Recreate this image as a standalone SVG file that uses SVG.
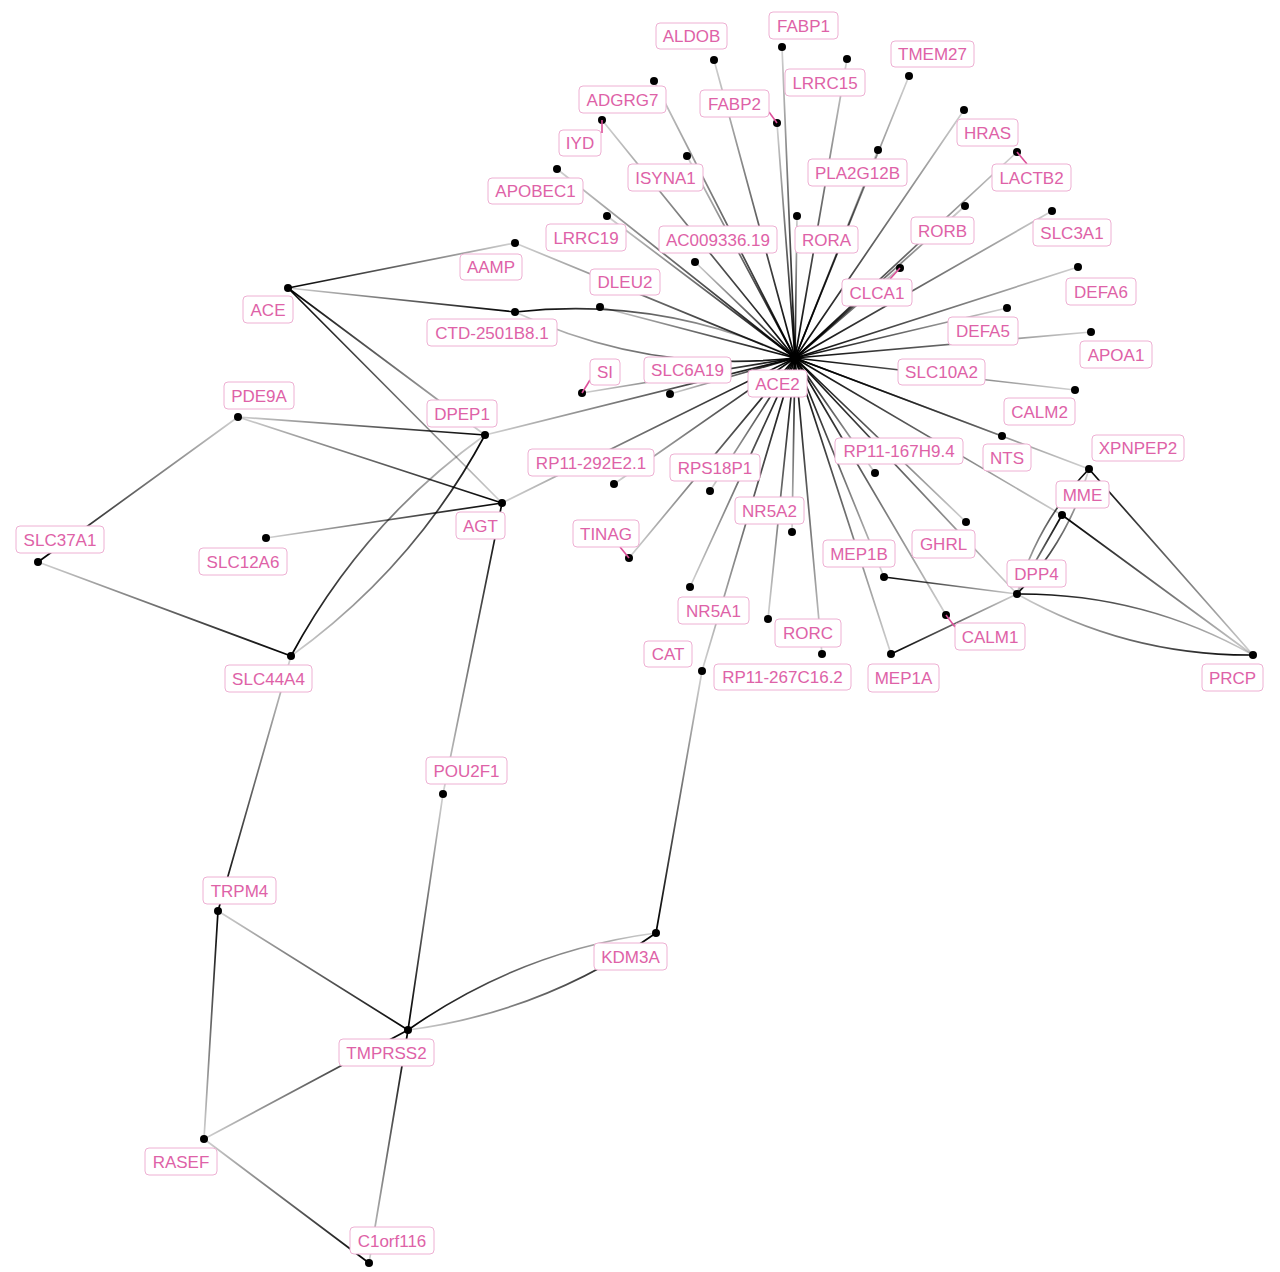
<svg xmlns="http://www.w3.org/2000/svg" width="1280" height="1272" viewBox="0 0 1280 1272">
<defs>
<linearGradient id="t"><stop offset="0" stop-color="#000" stop-opacity="1"/><stop offset="1" stop-color="#000" stop-opacity="0.18"/></linearGradient>
<linearGradient id="h1" href="#t" gradientUnits="userSpaceOnUse" x1="795" y1="358" x2="714" y2="60"/>
<linearGradient id="h2" href="#t" gradientUnits="userSpaceOnUse" x1="795" y1="358" x2="782" y2="47"/>
<linearGradient id="h3" href="#t" gradientUnits="userSpaceOnUse" x1="795" y1="358" x2="847" y2="59"/>
<linearGradient id="h4" href="#t" gradientUnits="userSpaceOnUse" x1="795" y1="358" x2="909" y2="76"/>
<linearGradient id="h5" href="#t" gradientUnits="userSpaceOnUse" x1="795" y1="358" x2="964" y2="110"/>
<linearGradient id="h6" href="#t" gradientUnits="userSpaceOnUse" x1="795" y1="358" x2="1017" y2="152"/>
<linearGradient id="h7" href="#t" gradientUnits="userSpaceOnUse" x1="795" y1="358" x2="878" y2="150"/>
<linearGradient id="h8" href="#t" gradientUnits="userSpaceOnUse" x1="795" y1="358" x2="777" y2="123"/>
<linearGradient id="h9" href="#t" gradientUnits="userSpaceOnUse" x1="795" y1="358" x2="654" y2="81"/>
<linearGradient id="h10" href="#t" gradientUnits="userSpaceOnUse" x1="795" y1="358" x2="602" y2="120"/>
<linearGradient id="h11" href="#t" gradientUnits="userSpaceOnUse" x1="795" y1="358" x2="687" y2="156"/>
<linearGradient id="h12" href="#t" gradientUnits="userSpaceOnUse" x1="795" y1="358" x2="557" y2="169"/>
<linearGradient id="h13" href="#t" gradientUnits="userSpaceOnUse" x1="795" y1="358" x2="607" y2="216"/>
<linearGradient id="h14" href="#t" gradientUnits="userSpaceOnUse" x1="795" y1="358" x2="695" y2="262"/>
<linearGradient id="h15" href="#t" gradientUnits="userSpaceOnUse" x1="795" y1="358" x2="797" y2="216"/>
<linearGradient id="h16" href="#t" gradientUnits="userSpaceOnUse" x1="795" y1="358" x2="515" y2="243"/>
<linearGradient id="h17" href="#t" gradientUnits="userSpaceOnUse" x1="795" y1="358" x2="600" y2="307"/>
<linearGradient id="h18" href="#t" gradientUnits="userSpaceOnUse" x1="795" y1="358" x2="582" y2="393"/>
<linearGradient id="h19" href="#t" gradientUnits="userSpaceOnUse" x1="795" y1="358" x2="670" y2="394"/>
<linearGradient id="h20" href="#t" gradientUnits="userSpaceOnUse" x1="795" y1="358" x2="965" y2="206"/>
<linearGradient id="h21" href="#t" gradientUnits="userSpaceOnUse" x1="795" y1="358" x2="1052" y2="211"/>
<linearGradient id="h22" href="#t" gradientUnits="userSpaceOnUse" x1="795" y1="358" x2="900" y2="268"/>
<linearGradient id="h23" href="#t" gradientUnits="userSpaceOnUse" x1="795" y1="358" x2="1078" y2="267"/>
<linearGradient id="h24" href="#t" gradientUnits="userSpaceOnUse" x1="795" y1="358" x2="1007" y2="308"/>
<linearGradient id="h25" href="#t" gradientUnits="userSpaceOnUse" x1="795" y1="358" x2="1091" y2="332"/>
<linearGradient id="h26" href="#t" gradientUnits="userSpaceOnUse" x1="795" y1="358" x2="1075" y2="390"/>
<linearGradient id="h27" href="#t" gradientUnits="userSpaceOnUse" x1="795" y1="358" x2="1002" y2="436"/>
<linearGradient id="h28" href="#t" gradientUnits="userSpaceOnUse" x1="795" y1="358" x2="1089" y2="469"/>
<linearGradient id="h29" href="#t" gradientUnits="userSpaceOnUse" x1="795" y1="358" x2="1062" y2="515"/>
<linearGradient id="h30" href="#t" gradientUnits="userSpaceOnUse" x1="795" y1="358" x2="875" y2="473"/>
<linearGradient id="h31" href="#t" gradientUnits="userSpaceOnUse" x1="795" y1="358" x2="966" y2="522"/>
<linearGradient id="h32" href="#t" gradientUnits="userSpaceOnUse" x1="795" y1="358" x2="884" y2="577"/>
<linearGradient id="h33" href="#t" gradientUnits="userSpaceOnUse" x1="795" y1="358" x2="1017" y2="594"/>
<linearGradient id="h34" href="#t" gradientUnits="userSpaceOnUse" x1="795" y1="358" x2="946" y2="615"/>
<linearGradient id="h35" href="#t" gradientUnits="userSpaceOnUse" x1="795" y1="358" x2="891" y2="654"/>
<linearGradient id="h36" href="#t" gradientUnits="userSpaceOnUse" x1="795" y1="358" x2="822" y2="654"/>
<linearGradient id="h37" href="#t" gradientUnits="userSpaceOnUse" x1="795" y1="358" x2="768" y2="619"/>
<linearGradient id="h38" href="#t" gradientUnits="userSpaceOnUse" x1="795" y1="358" x2="702" y2="671"/>
<linearGradient id="h39" href="#t" gradientUnits="userSpaceOnUse" x1="795" y1="358" x2="690" y2="587"/>
<linearGradient id="h40" href="#t" gradientUnits="userSpaceOnUse" x1="795" y1="358" x2="792" y2="532"/>
<linearGradient id="h41" href="#t" gradientUnits="userSpaceOnUse" x1="795" y1="358" x2="710" y2="491"/>
<linearGradient id="h42" href="#t" gradientUnits="userSpaceOnUse" x1="795" y1="358" x2="629" y2="558"/>
<linearGradient id="h43" href="#t" gradientUnits="userSpaceOnUse" x1="795" y1="358" x2="614" y2="484"/>
<linearGradient id="h44" href="#t" gradientUnits="userSpaceOnUse" x1="795" y1="358" x2="485" y2="435"/>
<linearGradient id="h45" href="#t" gradientUnits="userSpaceOnUse" x1="795" y1="358" x2="502" y2="503"/>
<linearGradient id="a1" href="#t" gradientUnits="userSpaceOnUse" x1="515" y1="312" x2="795" y2="358"/>
<linearGradient id="a2" href="#t" gradientUnits="userSpaceOnUse" x1="795" y1="358" x2="515" y2="312"/>
<linearGradient id="e1" href="#t" gradientUnits="userSpaceOnUse" x1="288" y1="288" x2="515" y2="243"/>
<linearGradient id="e2" href="#t" gradientUnits="userSpaceOnUse" x1="515" y1="312" x2="288" y2="288"/>
<linearGradient id="e3" href="#t" gradientUnits="userSpaceOnUse" x1="288" y1="288" x2="485" y2="435"/>
<linearGradient id="e4" href="#t" gradientUnits="userSpaceOnUse" x1="288" y1="288" x2="502" y2="503"/>
<linearGradient id="e5" href="#t" gradientUnits="userSpaceOnUse" x1="485" y1="435" x2="238" y2="417"/>
<linearGradient id="e6" href="#t" gradientUnits="userSpaceOnUse" x1="502" y1="503" x2="238" y2="417"/>
<linearGradient id="e7" href="#t" gradientUnits="userSpaceOnUse" x1="38" y1="562" x2="238" y2="417"/>
<linearGradient id="e8" href="#t" gradientUnits="userSpaceOnUse" x1="291" y1="656" x2="38" y2="562"/>
<linearGradient id="e9" href="#t" gradientUnits="userSpaceOnUse" x1="502" y1="503" x2="266" y2="538"/>
<linearGradient id="a3" href="#t" gradientUnits="userSpaceOnUse" x1="291" y1="656" x2="485" y2="435"/>
<linearGradient id="a4" href="#t" gradientUnits="userSpaceOnUse" x1="485" y1="435" x2="291" y2="656"/>
<linearGradient id="e10" href="#t" gradientUnits="userSpaceOnUse" x1="502" y1="503" x2="443" y2="794"/>
<linearGradient id="e11" href="#t" gradientUnits="userSpaceOnUse" x1="408" y1="1030" x2="443" y2="794"/>
<linearGradient id="e12" href="#t" gradientUnits="userSpaceOnUse" x1="218" y1="911" x2="291" y2="656"/>
<linearGradient id="e13" href="#t" gradientUnits="userSpaceOnUse" x1="408" y1="1030" x2="218" y2="911"/>
<linearGradient id="e14" href="#t" gradientUnits="userSpaceOnUse" x1="218" y1="911" x2="204" y2="1139"/>
<linearGradient id="e15" href="#t" gradientUnits="userSpaceOnUse" x1="408" y1="1030" x2="204" y2="1139"/>
<linearGradient id="e16" href="#t" gradientUnits="userSpaceOnUse" x1="369" y1="1263" x2="204" y2="1139"/>
<linearGradient id="e17" href="#t" gradientUnits="userSpaceOnUse" x1="408" y1="1030" x2="369" y2="1263"/>
<linearGradient id="a5" href="#t" gradientUnits="userSpaceOnUse" x1="408" y1="1030" x2="656" y2="933"/>
<linearGradient id="a6" href="#t" gradientUnits="userSpaceOnUse" x1="656" y1="933" x2="408" y2="1030"/>
<linearGradient id="e18" href="#t" gradientUnits="userSpaceOnUse" x1="656" y1="933" x2="702" y2="671"/>
<linearGradient id="e19" href="#t" gradientUnits="userSpaceOnUse" x1="884" y1="577" x2="1017" y2="594"/>
<linearGradient id="e20" href="#t" gradientUnits="userSpaceOnUse" x1="891" y1="654" x2="1017" y2="594"/>
<linearGradient id="a7" href="#t" gradientUnits="userSpaceOnUse" x1="1017" y1="594" x2="1253" y2="655"/>
<linearGradient id="a8" href="#t" gradientUnits="userSpaceOnUse" x1="1253" y1="655" x2="1017" y2="594"/>
<linearGradient id="a9" href="#t" gradientUnits="userSpaceOnUse" x1="1089" y1="469" x2="1017" y2="594"/>
<linearGradient id="a10" href="#t" gradientUnits="userSpaceOnUse" x1="1017" y1="594" x2="1089" y2="469"/>
<linearGradient id="e21" href="#t" gradientUnits="userSpaceOnUse" x1="1062" y1="515" x2="1017" y2="594"/>
<linearGradient id="e22" href="#t" gradientUnits="userSpaceOnUse" x1="1089" y1="469" x2="1253" y2="655"/>
<linearGradient id="e23" href="#t" gradientUnits="userSpaceOnUse" x1="1062" y1="515" x2="1253" y2="655"/>
</defs>
<style>
.ed line, .ed path { stroke-width: 1.7; fill: none; stroke-linecap: round; }
.nd circle { fill: #000; }
.nd rect { fill: #fff; stroke: #eeb0d3; stroke-width: 1; }
.nd text { font-family: "Liberation Sans", Arial, sans-serif; font-size: 17px; fill: #de62a7; text-anchor: middle; }
.nd .ld { stroke: #dc4f99; stroke-width: 1.6; }
</style>
<rect width="1280" height="1272" fill="#fff"/>
<g id="edges" class="ed">
<line x1="795" y1="358" x2="714" y2="60" stroke="url(#h1)"/>
<line x1="795" y1="358" x2="782" y2="47" stroke="url(#h2)"/>
<line x1="795" y1="358" x2="847" y2="59" stroke="url(#h3)"/>
<line x1="795" y1="358" x2="909" y2="76" stroke="url(#h4)"/>
<line x1="795" y1="358" x2="964" y2="110" stroke="url(#h5)"/>
<line x1="795" y1="358" x2="1017" y2="152" stroke="url(#h6)"/>
<line x1="795" y1="358" x2="878" y2="150" stroke="url(#h7)"/>
<line x1="795" y1="358" x2="777" y2="123" stroke="url(#h8)"/>
<line x1="795" y1="358" x2="654" y2="81" stroke="url(#h9)"/>
<line x1="795" y1="358" x2="602" y2="120" stroke="url(#h10)"/>
<line x1="795" y1="358" x2="687" y2="156" stroke="url(#h11)"/>
<line x1="795" y1="358" x2="557" y2="169" stroke="url(#h12)"/>
<line x1="795" y1="358" x2="607" y2="216" stroke="url(#h13)"/>
<line x1="795" y1="358" x2="695" y2="262" stroke="url(#h14)"/>
<line x1="795" y1="358" x2="797" y2="216" stroke="url(#h15)"/>
<line x1="795" y1="358" x2="515" y2="243" stroke="url(#h16)"/>
<line x1="795" y1="358" x2="600" y2="307" stroke="url(#h17)"/>
<line x1="795" y1="358" x2="582" y2="393" stroke="url(#h18)"/>
<line x1="795" y1="358" x2="670" y2="394" stroke="url(#h19)"/>
<line x1="795" y1="358" x2="965" y2="206" stroke="url(#h20)"/>
<line x1="795" y1="358" x2="1052" y2="211" stroke="url(#h21)"/>
<line x1="795" y1="358" x2="900" y2="268" stroke="url(#h22)"/>
<line x1="795" y1="358" x2="1078" y2="267" stroke="url(#h23)"/>
<line x1="795" y1="358" x2="1007" y2="308" stroke="url(#h24)"/>
<line x1="795" y1="358" x2="1091" y2="332" stroke="url(#h25)"/>
<line x1="795" y1="358" x2="1075" y2="390" stroke="url(#h26)"/>
<line x1="795" y1="358" x2="1002" y2="436" stroke="url(#h27)"/>
<line x1="795" y1="358" x2="1089" y2="469" stroke="url(#h28)"/>
<line x1="795" y1="358" x2="1062" y2="515" stroke="url(#h29)"/>
<line x1="795" y1="358" x2="875" y2="473" stroke="url(#h30)"/>
<line x1="795" y1="358" x2="966" y2="522" stroke="url(#h31)"/>
<line x1="795" y1="358" x2="884" y2="577" stroke="url(#h32)"/>
<line x1="795" y1="358" x2="1017" y2="594" stroke="url(#h33)"/>
<line x1="795" y1="358" x2="946" y2="615" stroke="url(#h34)"/>
<line x1="795" y1="358" x2="891" y2="654" stroke="url(#h35)"/>
<line x1="795" y1="358" x2="822" y2="654" stroke="url(#h36)"/>
<line x1="795" y1="358" x2="768" y2="619" stroke="url(#h37)"/>
<line x1="795" y1="358" x2="702" y2="671" stroke="url(#h38)"/>
<line x1="795" y1="358" x2="690" y2="587" stroke="url(#h39)"/>
<line x1="795" y1="358" x2="792" y2="532" stroke="url(#h40)"/>
<line x1="795" y1="358" x2="710" y2="491" stroke="url(#h41)"/>
<line x1="795" y1="358" x2="629" y2="558" stroke="url(#h42)"/>
<line x1="795" y1="358" x2="614" y2="484" stroke="url(#h43)"/>
<line x1="795" y1="358" x2="485" y2="435" stroke="url(#h44)"/>
<line x1="795" y1="358" x2="502" y2="503" stroke="url(#h45)"/>
<path d="M515,312 Q661.5,295.5 795,358" stroke="url(#a1)"/>
<path d="M795,358 Q648.5,374.5 515,312" stroke="url(#a2)"/>
<line x1="288" y1="288" x2="515" y2="243" stroke="url(#e1)"/>
<line x1="515" y1="312" x2="288" y2="288" stroke="url(#e2)"/>
<line x1="288" y1="288" x2="485" y2="435" stroke="url(#e3)"/>
<line x1="288" y1="288" x2="502" y2="503" stroke="url(#e4)"/>
<line x1="485" y1="435" x2="238" y2="417" stroke="url(#e5)"/>
<line x1="502" y1="503" x2="238" y2="417" stroke="url(#e6)"/>
<line x1="38" y1="562" x2="238" y2="417" stroke="url(#e7)"/>
<line x1="291" y1="656" x2="38" y2="562" stroke="url(#e8)"/>
<line x1="502" y1="503" x2="266" y2="538" stroke="url(#e9)"/>
<path d="M291,656 Q362.4,523.1 485,435" stroke="url(#a3)"/>
<path d="M485,435 Q413.6,567.9 291,656" stroke="url(#a4)"/>
<line x1="502" y1="503" x2="443" y2="794" stroke="url(#e10)"/>
<line x1="408" y1="1030" x2="443" y2="794" stroke="url(#e11)"/>
<line x1="218" y1="911" x2="291" y2="656" stroke="url(#e12)"/>
<line x1="408" y1="1030" x2="218" y2="911" stroke="url(#e13)"/>
<line x1="218" y1="911" x2="204" y2="1139" stroke="url(#e14)"/>
<line x1="408" y1="1030" x2="204" y2="1139" stroke="url(#e15)"/>
<line x1="369" y1="1263" x2="204" y2="1139" stroke="url(#e16)"/>
<line x1="408" y1="1030" x2="369" y2="1263" stroke="url(#e17)"/>
<path d="M408,1030 Q520,951 656,933" stroke="url(#a5)"/>
<path d="M656,933 Q544,1012 408,1030" stroke="url(#a6)"/>
<line x1="656" y1="933" x2="702" y2="671" stroke="url(#e18)"/>
<line x1="884" y1="577" x2="1017" y2="594" stroke="url(#e19)"/>
<line x1="891" y1="654" x2="1017" y2="594" stroke="url(#e20)"/>
<path d="M1017,594 Q1143,593 1253,655" stroke="url(#a7)"/>
<path d="M1253,655 Q1127,656 1017,594" stroke="url(#a8)"/>
<path d="M1089,469 Q1037.4,522.5 1017,594" stroke="url(#a9)"/>
<path d="M1017,594 Q1068.6,540.5 1089,469" stroke="url(#a10)"/>
<line x1="1062" y1="515" x2="1017" y2="594" stroke="url(#e21)"/>
<line x1="1089" y1="469" x2="1253" y2="655" stroke="url(#e22)"/>
<line x1="1062" y1="515" x2="1253" y2="655" stroke="url(#e23)"/>
</g>
<g id="nodes" class="nd">
<g id="n-ACE2"><circle cx="795" cy="358" r="5.5"/><rect x="748" y="370" width="59" height="27" rx="4"/><text x="777.5" y="389.5">ACE2</text></g>
<g id="n-ALDOB"><circle cx="714" cy="60" r="4"/><rect x="656" y="23" width="71" height="26" rx="4"/><text x="691.5" y="42">ALDOB</text></g>
<g id="n-FABP1"><circle cx="782" cy="47" r="4"/><rect x="769" y="12" width="69" height="27" rx="4"/><text x="803.5" y="31.5">FABP1</text></g>
<g id="n-LRRC15"><circle cx="847" cy="59" r="4"/><rect x="785" y="69" width="80" height="27" rx="4"/><text x="825" y="88.5">LRRC15</text></g>
<g id="n-TMEM27"><circle cx="909" cy="76" r="4"/><rect x="891" y="41" width="83" height="26" rx="4"/><text x="932.5" y="60">TMEM27</text></g>
<g id="n-HRAS"><circle cx="964" cy="110" r="4"/><rect x="957" y="119" width="61" height="27" rx="4"/><text x="987.5" y="138.5">HRAS</text></g>
<g id="n-LACTB2"><circle cx="1017" cy="152" r="4"/><line class="ld" x1="1017" y1="152" x2="1027" y2="164"/><rect x="992" y="164" width="79" height="27" rx="4"/><text x="1031.5" y="183.5">LACTB2</text></g>
<g id="n-PLA2G12B"><circle cx="878" cy="150" r="4"/><rect x="808" y="159" width="99" height="27" rx="4"/><text x="857.5" y="178.5">PLA2G12B</text></g>
<g id="n-FABP2"><circle cx="777" cy="123" r="4"/><line class="ld" x1="777" y1="123" x2="769" y2="112"/><rect x="700" y="90" width="69" height="27" rx="4"/><text x="734.5" y="109.5">FABP2</text></g>
<g id="n-ADGRG7"><circle cx="654" cy="81" r="4"/><rect x="579" y="86" width="87" height="27" rx="4"/><text x="622.5" y="105.5">ADGRG7</text></g>
<g id="n-IYD"><circle cx="602" cy="120" r="4"/><line class="ld" x1="602" y1="120" x2="602" y2="133"/><rect x="559" y="130" width="42" height="26" rx="4"/><text x="580" y="149">IYD</text></g>
<g id="n-ISYNA1"><circle cx="687" cy="156" r="4"/><rect x="628" y="164" width="75" height="27" rx="4"/><text x="665.5" y="183.5">ISYNA1</text></g>
<g id="n-APOBEC1"><circle cx="557" cy="169" r="4"/><rect x="488" y="178" width="95" height="26" rx="4"/><text x="535.5" y="197">APOBEC1</text></g>
<g id="n-LRRC19"><circle cx="607" cy="216" r="4"/><rect x="546" y="224" width="80" height="27" rx="4"/><text x="586" y="243.5">LRRC19</text></g>
<g id="n-AC009336.19"><circle cx="695" cy="262" r="4"/><rect x="659" y="226" width="118" height="27" rx="4"/><text x="718" y="245.5">AC009336.19</text></g>
<g id="n-RORA"><circle cx="797" cy="216" r="4"/><rect x="795" y="226" width="63" height="27" rx="4"/><text x="826.5" y="245.5">RORA</text></g>
<g id="n-AAMP"><circle cx="515" cy="243" r="4"/><rect x="460" y="254" width="62" height="26" rx="4"/><text x="491" y="273">AAMP</text></g>
<g id="n-DLEU2"><circle cx="600" cy="307" r="4"/><rect x="590" y="269" width="70" height="26" rx="4"/><text x="625" y="288">DLEU2</text></g>
<g id="n-CTD-2501B8.1"><circle cx="515" cy="312" r="4"/><rect x="427" y="319" width="130" height="27" rx="4"/><text x="492" y="338.5">CTD-2501B8.1</text></g>
<g id="n-ACE"><circle cx="288" cy="288" r="4"/><rect x="243" y="296" width="50" height="27" rx="4"/><text x="268" y="315.5">ACE</text></g>
<g id="n-SI"><circle cx="582" cy="393" r="4"/><line class="ld" x1="582" y1="393" x2="590" y2="380"/><rect x="590" y="359" width="30" height="26" rx="4"/><text x="605" y="378">SI</text></g>
<g id="n-SLC6A19"><circle cx="670" cy="394" r="4"/><rect x="644" y="357" width="87" height="26" rx="4"/><text x="687.5" y="376">SLC6A19</text></g>
<g id="n-RORB"><circle cx="965" cy="206" r="4"/><rect x="911" y="217" width="63" height="27" rx="4"/><text x="942.5" y="236.5">RORB</text></g>
<g id="n-SLC3A1"><circle cx="1052" cy="211" r="4"/><rect x="1033" y="219" width="78" height="27" rx="4"/><text x="1072" y="238.5">SLC3A1</text></g>
<g id="n-CLCA1"><circle cx="900" cy="268" r="4"/><line class="ld" x1="900" y1="268" x2="890" y2="279"/><rect x="842" y="279" width="70" height="27" rx="4"/><text x="877" y="298.5">CLCA1</text></g>
<g id="n-DEFA6"><circle cx="1078" cy="267" r="4"/><rect x="1066" y="278" width="70" height="27" rx="4"/><text x="1101" y="297.5">DEFA6</text></g>
<g id="n-DEFA5"><circle cx="1007" cy="308" r="4"/><rect x="948" y="317" width="70" height="28" rx="4"/><text x="983" y="337">DEFA5</text></g>
<g id="n-APOA1"><circle cx="1091" cy="332" r="4"/><rect x="1080" y="341" width="72" height="27" rx="4"/><text x="1116" y="360.5">APOA1</text></g>
<g id="n-SLC10A2"><rect x="898" y="359" width="87" height="26" rx="4"/><text x="941.5" y="378">SLC10A2</text></g>
<g id="n-CALM2"><circle cx="1075" cy="390" r="4"/><rect x="1004" y="398" width="71" height="27" rx="4"/><text x="1039.5" y="417.5">CALM2</text></g>
<g id="n-NTS"><circle cx="1002" cy="436" r="4"/><rect x="983" y="444" width="48" height="27" rx="4"/><text x="1007" y="463.5">NTS</text></g>
<g id="n-XPNPEP2"><circle cx="1089" cy="469" r="4"/><rect x="1092" y="435" width="92" height="26" rx="4"/><text x="1138" y="454">XPNPEP2</text></g>
<g id="n-MME"><circle cx="1062" cy="515" r="4"/><rect x="1056" y="481" width="53" height="27" rx="4"/><text x="1082.5" y="500.5">MME</text></g>
<g id="n-RP11-167H9.4"><circle cx="875" cy="473" r="4"/><rect x="835" y="438" width="128" height="26" rx="4"/><text x="899" y="457">RP11-167H9.4</text></g>
<g id="n-GHRL"><circle cx="966" cy="522" r="4"/><rect x="912" y="530" width="63" height="28" rx="4"/><text x="943.5" y="550">GHRL</text></g>
<g id="n-MEP1B"><circle cx="884" cy="577" r="4"/><rect x="823" y="540" width="72" height="27" rx="4"/><text x="859" y="559.5">MEP1B</text></g>
<g id="n-DPP4"><circle cx="1017" cy="594" r="4"/><rect x="1007" y="560" width="59" height="27" rx="4"/><text x="1036.5" y="579.5">DPP4</text></g>
<g id="n-CALM1"><circle cx="946" cy="615" r="4"/><line class="ld" x1="946" y1="615" x2="955" y2="627"/><rect x="955" y="623" width="70" height="27" rx="4"/><text x="990" y="642.5">CALM1</text></g>
<g id="n-MEP1A"><circle cx="891" cy="654" r="4"/><rect x="868" y="664" width="71" height="28" rx="4"/><text x="903.5" y="684">MEP1A</text></g>
<g id="n-PRCP"><circle cx="1253" cy="655" r="4"/><rect x="1202" y="664" width="61" height="27" rx="4"/><text x="1232.5" y="683.5">PRCP</text></g>
<g id="n-RP11-267C16.2"><circle cx="822" cy="654" r="4"/><rect x="714" y="664" width="137" height="26" rx="4"/><text x="782.5" y="683">RP11-267C16.2</text></g>
<g id="n-RORC"><circle cx="768" cy="619" r="4"/><rect x="775" y="619" width="66" height="28" rx="4"/><text x="808" y="639">RORC</text></g>
<g id="n-CAT"><circle cx="702" cy="671" r="4"/><rect x="644" y="641" width="48" height="26" rx="4"/><text x="668" y="660">CAT</text></g>
<g id="n-NR5A1"><circle cx="690" cy="587" r="4"/><rect x="678" y="597" width="71" height="27" rx="4"/><text x="713.5" y="616.5">NR5A1</text></g>
<g id="n-NR5A2"><circle cx="792" cy="532" r="4"/><rect x="735" y="497" width="69" height="27" rx="4"/><text x="769.5" y="516.5">NR5A2</text></g>
<g id="n-RPS18P1"><circle cx="710" cy="491" r="4"/><rect x="670" y="454" width="90" height="27" rx="4"/><text x="715" y="473.5">RPS18P1</text></g>
<g id="n-TINAG"><circle cx="629" cy="558" r="4"/><line class="ld" x1="629" y1="558" x2="620" y2="547"/><rect x="573" y="520" width="66" height="27" rx="4"/><text x="606" y="539.5">TINAG</text></g>
<g id="n-RP11-292E2.1"><circle cx="614" cy="484" r="4"/><rect x="528" y="449" width="126" height="27" rx="4"/><text x="591" y="468.5">RP11-292E2.1</text></g>
<g id="n-DPEP1"><circle cx="485" cy="435" r="4"/><rect x="427" y="400" width="70" height="27" rx="4"/><text x="462" y="419.5">DPEP1</text></g>
<g id="n-AGT"><circle cx="502" cy="503" r="4"/><rect x="456" y="512" width="49" height="27" rx="4"/><text x="480.5" y="531.5">AGT</text></g>
<g id="n-PDE9A"><circle cx="238" cy="417" r="4"/><rect x="224" y="382" width="70" height="27" rx="4"/><text x="259" y="401.5">PDE9A</text></g>
<g id="n-SLC37A1"><circle cx="38" cy="562" r="4"/><rect x="16" y="526" width="88" height="27" rx="4"/><text x="60" y="545.5">SLC37A1</text></g>
<g id="n-SLC12A6"><circle cx="266" cy="538" r="4"/><rect x="199" y="548" width="88" height="27" rx="4"/><text x="243" y="567.5">SLC12A6</text></g>
<g id="n-SLC44A4"><circle cx="291" cy="656" r="4"/><rect x="225" y="665" width="87" height="27" rx="4"/><text x="268.5" y="684.5">SLC44A4</text></g>
<g id="n-POU2F1"><circle cx="443" cy="794" r="4"/><rect x="426" y="757" width="81" height="27" rx="4"/><text x="466.5" y="776.5">POU2F1</text></g>
<g id="n-TRPM4"><circle cx="218" cy="911" r="4"/><rect x="203" y="877" width="73" height="27" rx="4"/><text x="239.5" y="896.5">TRPM4</text></g>
<g id="n-KDM3A"><circle cx="656" cy="933" r="4"/><rect x="594" y="943" width="73" height="27" rx="4"/><text x="630.5" y="962.5">KDM3A</text></g>
<g id="n-TMPRSS2"><circle cx="408" cy="1030" r="4"/><rect x="339" y="1039" width="95" height="27" rx="4"/><text x="386.5" y="1058.5">TMPRSS2</text></g>
<g id="n-RASEF"><circle cx="204" cy="1139" r="4"/><rect x="145" y="1148" width="72" height="27" rx="4"/><text x="181" y="1167.5">RASEF</text></g>
<g id="n-C1orf116"><circle cx="369" cy="1263" r="4"/><rect x="350" y="1227" width="84" height="27" rx="4"/><text x="392" y="1246.5">C1orf116</text></g>
</g>
</svg>
